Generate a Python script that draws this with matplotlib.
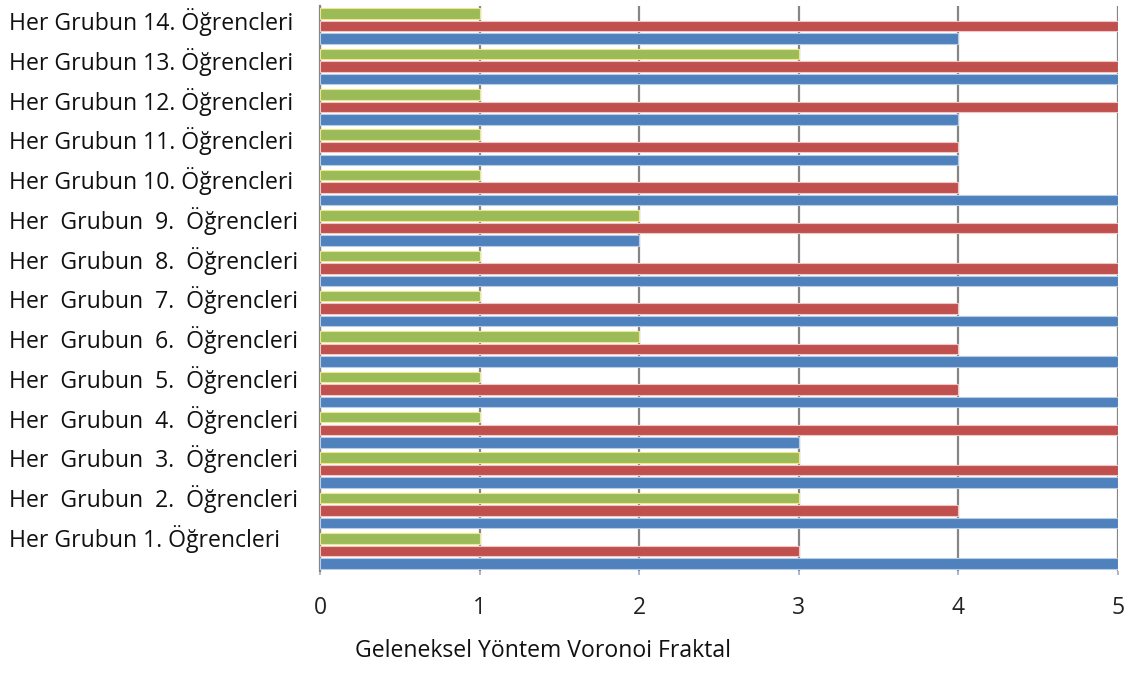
import matplotlib
matplotlib.use("Agg")
import matplotlib.pyplot as plt
import numpy as np

# Group labels, bottom to top (group 1 first)
groups = [
    "Her Grubun 1. Öğrencleri",
    "Her  Grubun  2.  Öğrencleri",
    "Her  Grubun  3.  Öğrencleri",
    "Her  Grubun  4.  Öğrencleri",
    "Her  Grubun  5.  Öğrencleri",
    "Her  Grubun  6.  Öğrencleri",
    "Her  Grubun  7.  Öğrencleri",
    "Her  Grubun  8.  Öğrencleri",
    "Her  Grubun  9.  Öğrencleri",
    "Her Grubun 10. Öğrencleri",
    "Her Grubun 11. Öğrencleri",
    "Her Grubun 12. Öğrencleri",
    "Her Grubun 13. Öğrencleri",
    "Her Grubun 14. Öğrencleri",
]

series_names = ["Geleneksel Yöntem", "Voronoi", "Fraktal"]
geleneksel = [5, 5, 5, 3, 5, 5, 5, 5, 2, 5, 4, 4, 5, 4]
voronoi    = [3, 4, 5, 5, 4, 4, 4, 5, 5, 4, 4, 5, 5, 5]
fraktal    = [1, 3, 3, 1, 1, 2, 1, 1, 2, 1, 1, 1, 3, 1]
x_ticks = [0, 1, 2, 3, 4, 5]

colors = ["#4F81BD", "#C0504D", "#9BBB59"]
edges = ["#B9CDE5", "#F2C6C5", "#F0E68C"]
FONT = "Open Sans"

W, H = 1129, 673
fig = plt.figure(figsize=(W / 100, H / 100), dpi=100)
ax = fig.add_axes([320 / W, 1 - 571 / H, (1118 - 320) / W, (571 - 6) / H])

y = np.arange(len(groups))
step = 0.31
bar_h = 0.26
for k, (vals, c, e) in enumerate(zip([geleneksel, voronoi, fraktal], colors, edges)):
    ax.barh(y + (k - 1) * step, vals, height=bar_h, color=c,
            edgecolor=e, linewidth=0.8, zorder=3, label=series_names[k])

ax.set_xlim(0, 5)
ax.set_ylim(-0.5, len(groups) - 0.5)

# vertical gridlines
ax.set_xticks(x_ticks)
ax.xaxis.grid(True, color="#868686", linewidth=1.6, zorder=1)
ax.set_axisbelow(True)
for s in ["top", "right", "bottom"]:
    ax.spines[s].set_visible(False)
ax.spines["left"].set_color("#868686")
ax.spines["left"].set_linewidth(1.6)

ax.tick_params(axis="x", direction="out", length=3, width=1.2, color="#9aaccc",
               labelsize=16.5, labelcolor="#222222", pad=15)
for lbl in ax.get_xticklabels():
    lbl.set_fontfamily(FONT)

ax.set_yticks([])

# group labels: a left-aligned column, evenly spaced
baselines_px = np.linspace(547, 30, len(groups))
for b, txt in zip(baselines_px, groups):
    fig.text(9 / W, 1 - b / H, txt, ha="left", va="baseline",
             fontsize=16.6, family=FONT, color="#111111")

fig.text(355 / W, 1 - 657 / H, "Geleneksel Yöntem Voronoi Fraktal",
         ha="left", va="baseline", fontsize=16.6, family=FONT, color="#111111")

fig.savefig("out.png", dpi=100, facecolor="white")
